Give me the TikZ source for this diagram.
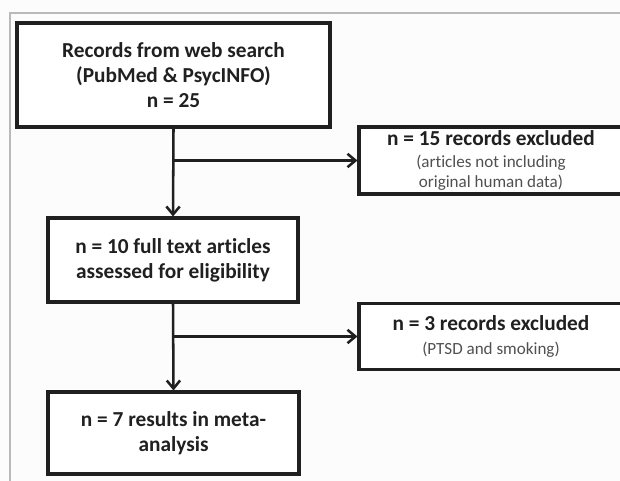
\documentclass[tikz,border=0pt]{standalone}
\usepackage{fontspec}
\setmainfont{Carlito}[Ligatures=NoCommon]
\usepackage{xcolor}
\usetikzlibrary{arrows.meta, positioning, calc}
\definecolor{inkdark}{RGB}{32, 32, 32}
\definecolor{subgray}{RGB}{80, 80, 80}
\definecolor{framegray}{RGB}{185, 185, 185}
\newcommand{\subtxt}[1]{{\fontsize{12.8}{14}\selectfont\mdseries\color{subgray}#1}}

\begin{document}
\begin{tikzpicture}[x=0.75pt, y=-0.75pt,
    box/.style={draw=inkdark, line width=2.3pt, fill=white, align=center, inner sep=2pt,
        text=inkdark, font=\fontsize{16}{19}\selectfont\bfseries},
    flow/.style={draw=inkdark, line width=1.9pt, -{Straight Barb[length=6pt, width=10pt]}}]
    % Page area and frame
    \useasboundingbox (0,0) rectangle (620,481);
    \clip (0,0) rectangle (620,481);
    \fill[white!99!black] (0,0) rectangle (620,481);
    \draw[framegray, line width=1.3pt] (10,490) |- (640,13);

    % Main column
    \node[box, minimum width=234.75pt, minimum height=78pt] (records) at (173.5,75)
        {Records from web search\\(PubMed \& PsycINFO)\\n = 25};
    \node[box, minimum width=187.5pt, minimum height=63pt] (fulltext) at (173,260)
        {n = 10 full text articles\\assessed for eligibility};
    \node[box, minimum width=188.25pt, minimum height=61.5pt] (meta) at (173.5,433)
        {n = 7 results in meta-\\analysis};

    % Exclusion boxes
    \node[box, minimum width=198pt, minimum height=50.25pt] (excl1) at (491,160.5)
        {n = 15 records excluded\\[-2pt]\subtxt{(articles not including}\\[-4pt]\subtxt{original human data)}};
    \node[box, minimum width=198pt, minimum height=49.5pt] (excl2) at (491,336.5)
        {n = 3 records excluded\\[-1pt]\subtxt{(PTSD and smoking)}};

    % Arrows
    \draw[flow] (records.south) -- (fulltext.north);
    \draw[flow] (records.south |- excl1.west) -- (excl1.west);
    \draw[flow] (fulltext.south) -- (meta.north);
    \draw[flow] (fulltext.south |- excl2.west) -- (excl2.west);
\end{tikzpicture}
\end{document}
